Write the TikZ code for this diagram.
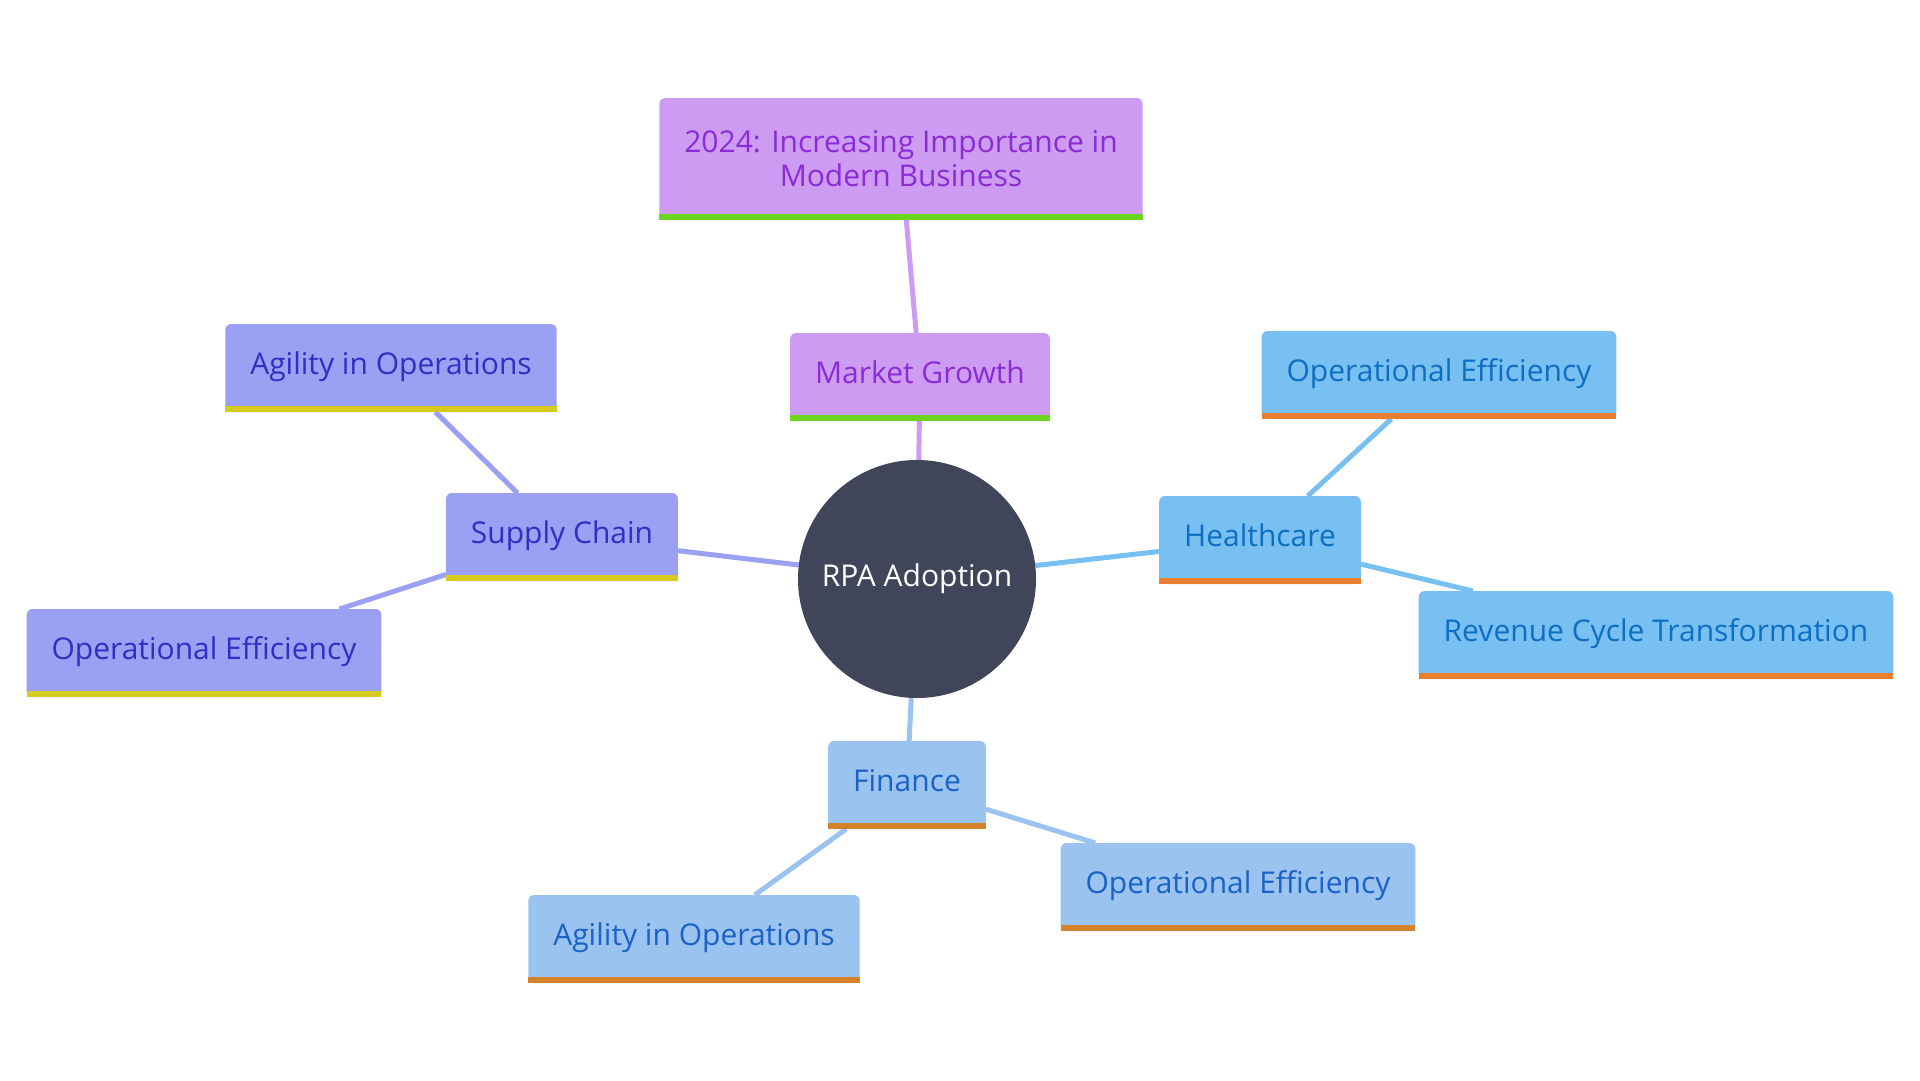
\documentclass[tikz,border=0pt]{standalone}
\usepackage{fontspec}
\setmainfont{Open Sans}
\newcommand*{\mapfont}{\fontsize{30}{34}\selectfont}
\definecolor{P}{HTML}{CD9BF2}
\definecolor{Ptext}{HTML}{8A2BD6}
\definecolor{Pbar}{HTML}{6AD41E}
\definecolor{I}{HTML}{9AA0F2}
\definecolor{Itext}{HTML}{2E30C4}
\definecolor{Ibar}{HTML}{D6CB1E}
\definecolor{H}{HTML}{78BFF2}
\definecolor{Htext}{HTML}{0E6EC2}
\definecolor{Hbar}{HTML}{E87E2E}
\definecolor{F}{HTML}{9AC3EF}
\definecolor{Ftext}{HTML}{1A62C8}
\definecolor{Fbar}{HTML}{D4832A}
\definecolor{R}{HTML}{404559}
\usepackage{tikz}
\usetikzlibrary{backgrounds}
\tikzstyle{base}=[x=1pt, y=-1pt, inner sep=0pt, outer sep=0pt]
\tikzstyle{box}=[rectangle, rounded corners=6pt, inner xsep=25pt, font=\mapfont]
\tikzstyle{single}=[box, minimum height=88pt, text height=20pt, text depth=8pt]
\tikzstyle{link}=[line width=5pt]

\begin{document}
\begin{tikzpicture}[base]
    \path [use as bounding box] (0,0) rectangle (1920,1080);
        % centre
        \node [circle, fill=R, text=white, minimum size=238pt, font=\mapfont] (rpa) at (917,579) {RPA Adoption};
        % market growth
        \node [single, fill=P, text=Ptext] (growth) at (920,377) {Market Growth};
        \node [box, fill=P, text=Ptext, align=center, minimum height=122pt] (trend) at (901,159) {2024: Increasing Importance in\\Modern Business};
        % supply chain
        \node [single, fill=I, text=Itext] (supply) at (562,537) {Supply Chain};
        \node [single, fill=I, text=Itext] (supplyagile) at (391,368) {Agility in Operations};
        \node [single, fill=I, text=Itext] (supplyeff) at (204,653) {Operational Efficiency};
        % healthcare
        \node [single, fill=H, text=Htext] (health) at (1260,540) {Healthcare};
        \node [single, fill=H, text=Htext] (healtheff) at (1439,375) {Operational Efficiency};
        \node [single, fill=H, text=Htext] (healthrev) at (1656,635) {Revenue Cycle Transformation};
        % finance
        \node [single, fill=F, text=Ftext] (finance) at (907,785) {Finance};
        \node [single, fill=F, text=Ftext] (financeeff) at (1238,887) {Operational Efficiency};
        \node [single, fill=F, text=Ftext] (financeagile) at (694,939) {Agility in Operations};
        % bars under the boxes
        \foreach \n/\c in {trend/Pbar, growth/Pbar, supply/Ibar, supplyagile/Ibar, supplyeff/Ibar,
            health/Hbar, healtheff/Hbar, healthrev/Hbar, finance/Fbar, financeeff/Fbar, financeagile/Fbar}
            \fill [\c] (\n.south west) rectangle ([yshift=6pt]\n.south east);
        \begin{scope}[on background layer]
            \draw [link, P] (rpa) -- (growth);
            \draw [link, P] (growth) -- (trend);
            \draw [link, I] (rpa) -- (supply);
            \draw [link, I] (supply) -- (supplyagile);
            \draw [link, I] (supply) -- (supplyeff);
            \draw [link, H] (rpa) -- (health);
            \draw [link, H] (health) -- (healtheff);
            \draw [link, H] (health) -- (healthrev);
            \draw [link, F] (rpa) -- (finance);
            \draw [link, F] (finance) -- (financeeff);
            \draw [link, F] (finance) -- (financeagile);
        \end{scope}
    \end{tikzpicture}
\end{document}
